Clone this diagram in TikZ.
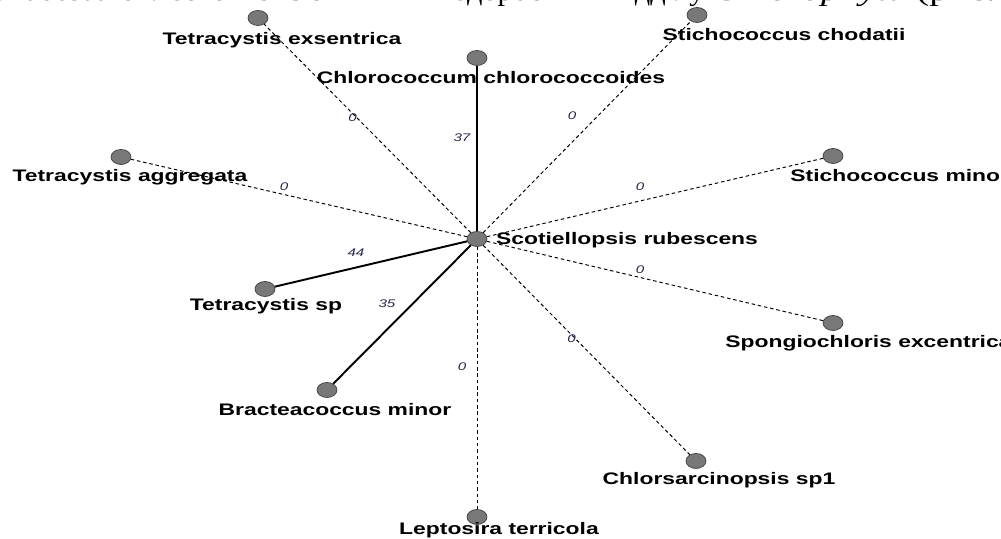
\documentclass[tikz,border=0pt]{standalone}
\usepackage{fontspec}
\setmainfont{Liberation Serif}
\newfontfamily\taxfont{Liberation Sans}
\usetikzlibrary{shapes.geometric}
\definecolor{dotgray}{RGB}{120,120,120}
\definecolor{wtblue}{RGB}{40,40,75}

\begin{document}
\begin{tikzpicture}[
  taxdot/.style={ellipse, draw=black!75, fill=dotgray, minimum width=4mm, minimum height=3mm, inner sep=0pt},
  taxon/.style={font=\taxfont\fontsize{9.5}{11}\selectfont\bfseries, xscale=1.37, inner sep=0pt},
  weight/.style={midway, font=\taxfont\fontsize{6.3}{7}\selectfont\itshape, text=wtblue, xshift=-3mm, yshift=2.2mm, xscale=1.37},
  zeroedge/.style={dash pattern=on 2pt off 1.6pt, line width=0.55pt},
  strongedge/.style={line width=1.1pt},
  captxt/.style={font=\fontsize{16}{19}\selectfont, inner sep=0pt}]
\useasboundingbox (0,0) rectangle (20.02,10.78);
\clip (0,0) rectangle (20.02,10.78);
% Caption line, cut at the top
\node[captxt, xscale=1.08, anchor=base east] (capl) at (14.10,10.76) {\textit{s rubescens} Vischer 1945 з іншими водоростями відділу};
\node[captxt, xscale=1.37, anchor=base west] (capr) at (14.26,10.76) {\textit{Chlorophyta} (рис.};
% Vertices
\node[taxdot] (scot) at (9.54,6.00) {};
\node[taxdot] (texs) at (5.16,10.42) {};
\node[taxdot] (chlc) at (9.54,9.62) {};
\node[taxdot] (stch) at (13.94,10.48) {};
\node[taxdot] (tagg) at (2.42,7.64) {};
\node[taxdot] (stmi) at (16.66,7.66) {};
\node[taxdot] (tsp)  at (5.30,5.00) {};
\node[taxdot] (spon) at (16.66,4.32) {};
\node[taxdot] (brac) at (6.54,2.98) {};
\node[taxdot] (lept) at (9.54,0.44) {};
\node[taxdot] (csar) at (13.92,1.56) {};
% Edges
\draw[strongedge] (scot) -- node[weight] {37} (chlc);
\draw[strongedge] (scot) -- node[weight] {44} (tsp);
\draw[strongedge] (scot) -- node[weight] {35} (brac);
\foreach \n in {texs,stch,tagg,stmi,spon,csar,lept}
  \draw[zeroedge] (scot) -- node[weight] {0} (\n);
% Taxon names
\node[taxon] (scotn) at (12.54,5.98) {Scotiellopsis rubescens};
\node[taxon] (texsn) at (5.64,9.98) {Tetracystis exsentrica};
\node[taxon] (chlcn) at (9.82,9.22) {Chlorococcum chlorococcoides};
\node[taxon] (stchn) at (15.68,10.08) {Stichococcus chodatii};
\node[taxon] (taggn) at (2.60,7.24) {Tetracystis aggregata};
\node[taxon, anchor=west] (stmin) at (15.80,7.26) {Stichococcus minor};
\node[taxon] (tspn) at (5.32,4.66) {Tetracystis sp};
\node[taxon, anchor=west] (sponn) at (14.50,3.92) {Spongiochloris excentrica};
\node[taxon] (bracn) at (6.70,2.58) {Bracteacoccus minor};
\node[taxon] (leptn) at (9.98,0.18) {Leptosira terricola};
\node[taxon] (csarn) at (14.38,1.18) {Chlorsarcinopsis sp1};
\end{tikzpicture}
\end{document}
